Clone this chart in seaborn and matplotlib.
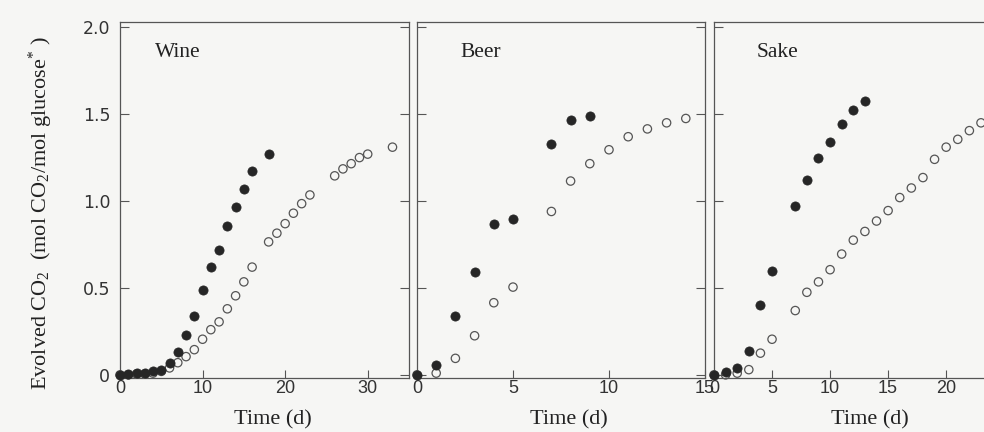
import matplotlib
matplotlib.use("Agg")
import matplotlib.pyplot as plt
import seaborn as sns
import pandas as pd

# Evolved CO2 per mol glucose over fermentation time
wine_day_filled = [0, 1, 2, 3, 4, 5, 6, 7, 8, 9, 10, 11, 12, 13, 14, 15, 16, 18]
wine_co2_filled = [0, 0.005, 0.01, 0.01, 0.02, 0.03, 0.07, 0.13, 0.23, 0.34, 0.49,
                   0.62, 0.72, 0.855, 0.965, 1.07, 1.17, 1.27]
wine_day_open = [0, 1, 2, 3, 4, 5, 6, 7, 8, 9, 10, 11, 12, 13, 14, 15, 16, 18, 19,
                 20, 21, 22, 23, 26, 27, 28, 29, 30, 33]
wine_co2_open = [0, 0, 0.005, 0.005, 0.01, 0.02, 0.04, 0.07, 0.105, 0.145, 0.205,
                 0.26, 0.305, 0.38, 0.455, 0.535, 0.62, 0.765, 0.815, 0.87, 0.93,
                 0.985, 1.035, 1.145, 1.185, 1.215, 1.25, 1.27, 1.31]

beer_day_filled = [0, 1, 2, 3, 4, 5, 7, 8, 9]
beer_co2_filled = [0, 0.055, 0.34, 0.59, 0.87, 0.895, 1.33, 1.465, 1.49]
beer_day_open = [0, 1, 2, 3, 4, 5, 7, 8, 9, 10, 11, 12, 13, 14]
beer_co2_open = [0, 0.01, 0.095, 0.225, 0.415, 0.505, 0.94, 1.115, 1.215, 1.295,
                 1.37, 1.415, 1.45, 1.475]

sake_day_filled = [0, 1, 2, 3, 4, 5, 7, 8, 9, 10, 11, 12, 13]
sake_co2_filled = [0, 0.015, 0.04, 0.14, 0.40, 0.60, 0.97, 1.12, 1.245, 1.34,
                   1.445, 1.525, 1.575]
sake_day_open = [0, 1, 2, 3, 4, 5, 7, 8, 9, 10, 11, 12, 13, 14, 15, 16, 17, 18,
                 19, 20, 21, 22, 23]
sake_co2_open = [0, 0, 0.01, 0.03, 0.125, 0.205, 0.37, 0.475, 0.535, 0.605, 0.695,
                 0.775, 0.825, 0.885, 0.945, 1.02, 1.075, 1.135, 1.24, 1.31, 1.355,
                 1.405, 1.45]

panel_names = ["Wine", "Beer", "Sake"]
x_ticks = [[0, 10, 20, 30], [0, 5, 10, 15], [0, 5, 10, 15, 20]]
x_limits = [(0, 35), (0, 15), (0, 25.5)]
y_ticks = [0, 0.5, 1.0, 1.5, 2.0]
y_tick_labels = ["0", "0.5", "1.0", "1.5", "2.0"]

sns.set_theme(style="white")
plt.rcParams["font.family"] = ["Liberation Serif", "DejaVu Serif"]
plt.rcParams["mathtext.fontset"] = "custom"
plt.rcParams["mathtext.rm"] = "Liberation Serif"
plt.rcParams["mathtext.it"] = "Liberation Serif:italic"

bg = "#f6f6f4"
fig = plt.figure(figsize=(9.84, 4.32), dpi=100, facecolor=bg)

W, H = 984, 432
boxes = [(120, 289), (417, 288), (714, 296)]
top_px, bot_px = 22, 378

series = [
    (wine_day_filled, wine_co2_filled, wine_day_open, wine_co2_open),
    (beer_day_filled, beer_co2_filled, beer_day_open, beer_co2_open),
    (sake_day_filled, sake_co2_filled, sake_day_open, sake_co2_open),
]
title_x = [0.12, 0.15, 0.145]

axes = []
for i, (left, width) in enumerate(boxes):
    ax = fig.add_axes([left / W, (H - bot_px) / H, width / W, (bot_px - top_px) / H])
    ax.set_facecolor(bg)
    axes.append(ax)
    df, vf, do, vo = series[i]
    open_df = pd.DataFrame({"day": do, "co2": vo})
    filled_df = pd.DataFrame({"day": df, "co2": vf})
    sns.scatterplot(data=open_df, x="day", y="co2", ax=ax, marker="o", s=36,
                    facecolor="none", edgecolor="#555555", linewidth=0.9,
                    clip_on=False, zorder=3)
    sns.scatterplot(data=filled_df, x="day", y="co2", ax=ax, marker="o", s=44,
                    color="#262626", edgecolor="#262626", linewidth=0.5,
                    clip_on=False, zorder=4)
    ax.set_xlim(*x_limits[i])
    ax.set_ylim(-0.018, 2.03)
    ax.set_xticks(x_ticks[i])
    ax.set_xticklabels([str(t) for t in x_ticks[i]], family="Liberation Sans",
                       fontsize=13, color="#333333")
    ax.set_yticks(y_ticks)
    if i == 0:
        ax.set_yticklabels(y_tick_labels, family="DejaVu Sans", fontsize=12.5,
                           color="#333333")
    else:
        ax.set_yticklabels([])
    ax.tick_params(axis="x", direction="in", length=6, width=0.8, color="#555555",
                   pad=1.5, bottom=True, top=False)
    ax.tick_params(axis="y", direction="in", length=6.5, width=0.8, color="#555555",
                   pad=7, left=True, right=True)
    for sp in ax.spines.values():
        sp.set_color("#555555")
        sp.set_linewidth(0.9)
    ax.set_xlabel("Time (d)", fontsize=16, color="#222222")
    ax.xaxis.set_label_coords(0.528, -0.09)
    ax.set_ylabel("")
    ax.text(title_x[i], 0.915, panel_names[i], transform=ax.transAxes,
            fontsize=15.5, color="#222222", va="center", ha="left")

axes[0].set_ylabel(r"Evolved CO$_2$  (mol CO$_2$/mol glucose$^{*}$ )",
                   fontsize=16, color="#222222")
axes[0].yaxis.set_label_coords(-0.225, 0.463)

fig.savefig("out.png", dpi=100, facecolor=bg)
